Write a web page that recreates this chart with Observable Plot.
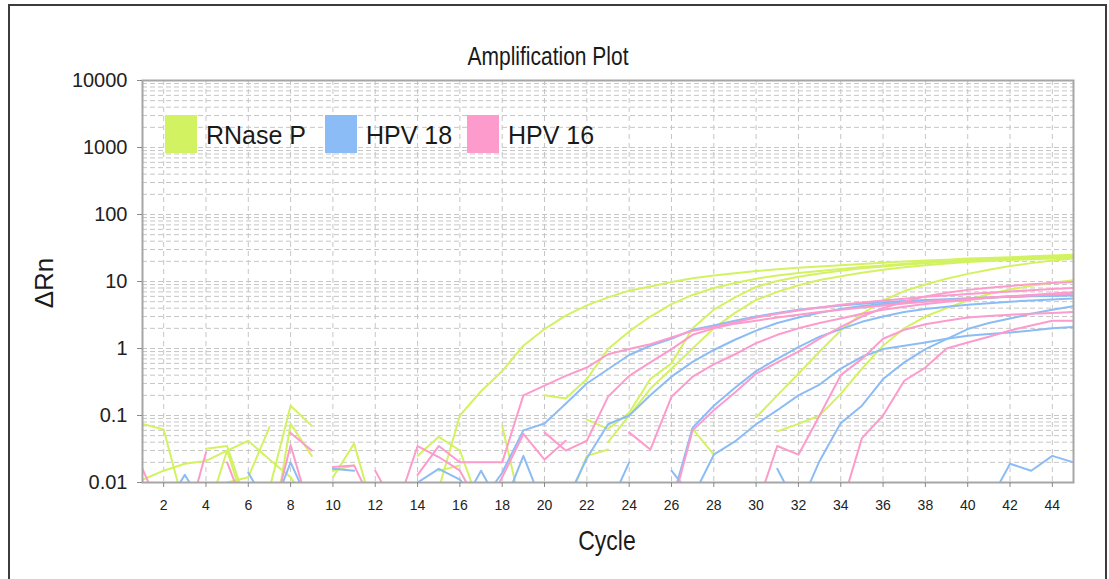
<!DOCTYPE html>
<html>
<head>
<meta charset="utf-8">
<script src="https://cdn.jsdelivr.net/npm/d3@7"></script>
<script src="https://cdn.jsdelivr.net/npm/@observablehq/plot@0.6"></script>
<style>
  body { margin: 0; background: #fff; font-family: "Liberation Sans", Arial, sans-serif; }
  #page { position: relative; width: 1109px; height: 579px; overflow: hidden; background: #fff; }
  #chart { position: absolute; left: 0; top: 0; }
  .border { position: absolute; left: 8px; top: 4px; width: 1095px; height: 640px; border: 2px solid #3c3c3c; pointer-events: none; }
  .title { position: absolute; left: 398px; width: 300px; top: 43px; text-align: center; font-size: 21px; line-height: 21px; color: #1a1a1a; transform: scaleY(1.2); transform-origin: 50% 0; }
  .ylabel { position: absolute; left: 44px; top: 283px; font-size: 26px; line-height: 26px; color: #1a1a1a; transform: translate(-50%, -50%) rotate(-90deg); white-space: nowrap; }
  .xlabel { position: absolute; left: 507px; width: 200px; top: 527px; text-align: center; font-size: 23px; line-height: 23px; color: #1a1a1a; transform: scaleY(1.2); transform-origin: 50% 0; }
  .legend-item { position: absolute; top: 115px; height: 38px; display: flex; align-items: center; }
  .legend-item .sw { width: 32px; height: 38px; margin-right: 9px; }
  .legend-item span { font-size: 25px; color: #1a1a1a; white-space: nowrap; transform: scaleY(1.06); }
</style>
</head>
<body>
<div id="page">
  <div id="chart"></div>
  <div class="title">Amplification Plot</div>
  <div class="ylabel">ΔRn</div>
  <div class="xlabel">Cycle</div>
  <div id="legend"></div>
  <div class="border"></div>
</div>
<script>
// Targets and their colours
const series = ["RNase P", "HPV 18", "HPV 16"];
const colors = ["#d3f261", "#8cbcf5", "#fd9bcc"];
const legendLeft = [165, 325, 467];

// Axis ticks
const cycles = d3.range(1, 46);
const xTicks = d3.range(2, 45, 2);
const yTicks = [0.01, 0.1, 1, 10, 100, 1000, 10000];

// ΔRn per cycle (1..45); null where the reading is not positive
const _ = null;
const rnaseP1 = [0.075, 0.062, 0.004, _, _, _, _, _, _, _, _, _, _, _, 0.008, 0.1, 0.23, 0.46, 1.1, 1.95, 3.1, 4.4, 5.8, 7.3, 8.4, 9.8, 11.2, 12.3, 13.3, 14.3, 15.2, 16, 16.8, 17.5, 18.2, 19, 19.8, 20.5, 21.2, 22, 22.5, 23, 23.8, 24.5, 25];
const rnaseP2 = [0.011, 0.015, 0.019, 0.021, 0.03, 0.042, 0.022, 0.012, 0.004, _, _, _, _, _, _, _, _, _, _, 0.2, 0.18, 0.35, 0.98, 1.8, 3.0, 4.6, 6.3, 8.0, 9.5, 11, 12.3, 13.4, 14.4, 15.4, 16.4, 17.4, 18.4, 19.3, 20.1, 20.9, 21.7, 22.4, 23, 23.6, 24];
const rnaseP3 = [_, _, _, 0.032, 0.035, 0.004, _, _, _, 0.015, 0.018, _, _, 0.025, 0.048, 0.03, 0.004, _, _, _, _, 0.087, 0.063, 0.11, 0.35, 0.6, 2.0, 3.8, 5.8, 8.3, 10.2, 11.8, 13.2, 14.5, 15.7, 16.8, 17.8, 18.7, 19.5, 20.3, 21, 21.7, 22.3, 22.8, 23.2];
const rnaseP4 = [_, _, _, 0.003, 0.03, 0.003, 0.001, 0.075, 0.025, _, _, _, _, _, 0.015, 0.018, _, _, _, _, _, _, 0.04, 0.1, 0.25, 0.5, 1.0, 2.0, 3.4, 5.3, 7.0, 8.8, 10.5, 12, 13.5, 15, 16.3, 17.5, 18.5, 19.5, 20.3, 21, 21.5, 22, 22.4];
const rnaseP5 = [_, _, _, _, 0.01, 0.012, 0.067, _, _, 0.012, 0.038, 0.003, _, _, _, _, _, _, _, _, 0.004, 0.025, 0.031, _, _, _, 0.063, 0.026, _, 0.094, 0.2, 0.42, 0.9, 1.86, 3.3, 5.2, 7.2, 9, 11, 13, 15, 17, 18.8, 20.5, 22];
const rnaseP6 = [_, _, _, _, _, _, 0.008, 0.14, 0.07, _, _, _, _, _, _, _, _, 0.07, 0.003, _, _, _, _, _, _, _, _, _, _, _, 0.058, 0.075, 0.1, 0.21, 0.5, 1.1, 2.0, 3.0, 4.0, 5.2, 6.5, 7.6, 8.6, 9.6, 10.5];

const hpv18_1 = [_, 0.004, 0.013, 0.004, _, _, _, _, _, _, _, _, _, 0.01, 0.016, 0.011, 0.005, 0.014, 0.06, 0.076, 0.15, 0.3, 0.49, 0.8, 1.1, 1.4, 1.9, 2.2, 2.6, 3.0, 3.4, 3.8, 4.1, 4.4, 4.65, 4.9, 5.1, 5.3, 5.45, 5.6, 5.75, 5.9, 6.0, 6.1, 6.2];
const hpv18_2 = [_, _, _, _, _, 0.014, 0.004, _, _, 0.016, 0.015, _, _, _, _, 0.004, 0.015, 0.004, _, _, 0.005, 0.023, 0.074, 0.1, 0.2, 0.38, 0.63, 0.95, 1.35, 1.85, 2.4, 2.9, 3.4, 3.9, 4.3, 4.6, 4.9, 5.1, 5.3, 5.5, 5.7, 5.9, 6.1, 6.3, 6.5];
const hpv18_3 = [_, _, _, _, _, _, 0.003, 0.02, 0.004, _, _, _, _, _, _, _, _, 0.004, 0.025, 0.004, _, _, 0.004, 0.02, _, 0.005, 0.066, 0.14, 0.26, 0.46, 0.7, 1.05, 1.5, 1.95, 2.5, 3.0, 3.5, 3.9, 4.2, 4.5, 4.75, 5.0, 5.2, 5.4, 5.6];
const hpv18_4 = [_, _, _, _, _, _, _, _, _, _, _, _, _, _, _, _, _, _, _, _, _, _, _, _, _, 0.015, 0.006, 0.026, 0.041, 0.074, 0.12, 0.2, 0.29, 0.5, 0.75, 0.98, 1.1, 1.23, 1.4, 1.55, 1.65, 1.74, 1.85, 2.0, 2.1];
const hpv18_5 = [_, _, _, _, _, _, _, _, _, _, _, _, _, _, _, _, _, _, _, _, _, _, _, _, _, _, _, _, _, _, 0.016, 0.004, 0.021, 0.077, 0.14, 0.35, 0.62, 0.98, 1.38, 1.95, 2.4, 2.8, 3.3, 3.8, 4.3];
const hpv18_6 = [_, _, _, _, _, _, _, _, _, _, _, _, _, _, _, _, _, _, _, _, _, _, _, _, _, _, _, _, _, _, _, _, _, _, _, _, _, _, _, _, 0.005, 0.019, 0.015, 0.025, 0.02];

const hpv16_1 = [0.016, 0.003, _, _, _, _, _, _, _, _, _, _, _, 0.013, 0.035, 0.02, 0.02, 0.02, 0.2, 0.28, 0.39, 0.52, 0.82, 0.98, 1.16, 1.46, 1.84, 2.1, 2.45, 2.9, 3.3, 3.7, 4.1, 4.5, 4.85, 5.2, 5.55, 5.9, 6.2, 6.5, 6.8, 7.1, 7.4, 7.7, 8.0];
const hpv16_2 = [_, _, 0.002, 0.028, _, _, _, _, _, 0.017, 0.018, 0.004, _, _, _, _, _, _, _, 0.056, 0.03, 0.042, 0.19, 0.39, 0.62, 0.98, 1.6, 2.0, 2.35, 2.6, 2.9, 3.2, 3.5, 3.8, 4.1, 4.4, 4.7, 5.0, 5.25, 5.5, 5.75, 6.0, 6.2, 6.4, 6.6];
const hpv16_3 = [_, _, _, _, 0.02, 0.003, _, _, _, _, _, 0.015, 0.004, 0.035, 0.024, 0.015, 0.004, _, _, _, _, _, _, 0.056, 0.031, 0.19, 0.38, 0.58, 0.82, 1.2, 1.6, 2.0, 2.4, 2.8, 3.3, 3.8, 4.2, 4.6, 5.0, 5.3, 5.7, 6.0, 6.3, 6.6, 6.9];
const hpv16_4 = [_, _, _, _, _, _, 0.002, 0.036, 0.003, _, _, _, _, _, _, _, _, _, _, _, _, _, _, _, _, 0.004, 0.06, 0.12, 0.22, 0.42, 0.62, 0.9, 1.4, 2.1, 3.0, 4.0, 5.0, 6.0, 6.8, 7.5, 8.1, 8.6, 9.1, 9.5, 9.8];
const hpv16_5 = [_, _, _, _, _, _, _, 0.055, 0.03, _, _, _, _, _, _, _, 0.003, 0.012, 0.053, 0.022, 0.042, _, _, _, _, _, _, _, _, 0.004, 0.035, 0.026, 0.1, 0.4, 0.7, 1.4, 1.9, 2.3, 2.6, 2.9, 3.05, 3.2, 3.3, 3.4, 3.5];
const hpv16_6 = [_, _, _, _, _, _, _, _, _, _, _, _, _, _, _, _, _, _, _, _, _, _, _, _, _, _, _, _, _, _, _, _, _, 0.004, 0.046, 0.1, 0.33, 0.52, 1.0, 1.23, 1.5, 1.86, 2.2, 2.6, 2.6];

const wells = [
  ["RNase P", rnaseP1], ["RNase P", rnaseP2], ["RNase P", rnaseP3],
  ["RNase P", rnaseP4], ["RNase P", rnaseP5], ["RNase P", rnaseP6],
  ["HPV 18", hpv18_1], ["HPV 18", hpv18_2], ["HPV 18", hpv18_3],
  ["HPV 18", hpv18_4], ["HPV 18", hpv18_5], ["HPV 18", hpv18_6],
  ["HPV 16", hpv16_1], ["HPV 16", hpv16_2], ["HPV 16", hpv16_3],
  ["HPV 16", hpv16_4], ["HPV 16", hpv16_5], ["HPV 16", hpv16_6]
];

const rows = wells.flatMap(([target, values], w) =>
  values.map((v, i) => ({cycle: cycles[i], value: v, well: w, target}))
);

// Log grid: 1..9 within every decade
const yGrid = yTicks.slice(0, -1)
  .flatMap(d => d3.range(1, 10).map(k => +(k * d).toPrecision(2)))
  .filter(v => v > 0.01);

const chart = Plot.plot({
  width: 1109,
  height: 579,
  marginTop: 80,
  marginBottom: 97,
  marginLeft: 142,
  marginRight: 36,
  style: {background: "transparent", fontFamily: "Liberation Sans, Arial, sans-serif", color: "#1a1a1a"},
  x: {domain: [1, 45], label: null},
  y: {type: "log", domain: [0.01, 10000], label: null},
  color: {domain: series, range: colors},
  marks: [
    Plot.ruleY(yGrid, {stroke: "#c6c6c6", strokeWidth: 1, strokeDasharray: "5,3"}),
    Plot.ruleX(xTicks, {stroke: "#c6c6c6", strokeWidth: 1, strokeDasharray: "5,4"}),
    Plot.line(rows, {x: "cycle", y: "value", z: "well", stroke: "target", strokeWidth: 2, clip: true}),
    Plot.frame({stroke: "#a6a6a6", strokeWidth: 2}),
    Plot.axisX({ticks: xTicks, tickSize: 5, tickPadding: 13, fontSize: 14, stroke: "#8a8a8a", fill: "#222", label: null}),
    Plot.axisY({ticks: yTicks, tickSize: 5, tickPadding: 10, fontSize: 20, stroke: "#8a8a8a", fill: "#222", label: null,
      tickFormat: d => String(+d.toPrecision(1))})
  ]
});
document.getElementById("chart").append(chart);

// Legend inside the plot area
const legend = document.getElementById("legend");
series.forEach((name, i) => {
  const item = document.createElement("div");
  item.className = "legend-item";
  item.style.left = legendLeft[i] + "px";
  const sw = document.createElement("div");
  sw.className = "sw";
  sw.style.background = colors[i];
  const label = document.createElement("span");
  label.textContent = name;
  item.append(sw, label);
  legend.append(item);
});
</script>
</body>
</html>
